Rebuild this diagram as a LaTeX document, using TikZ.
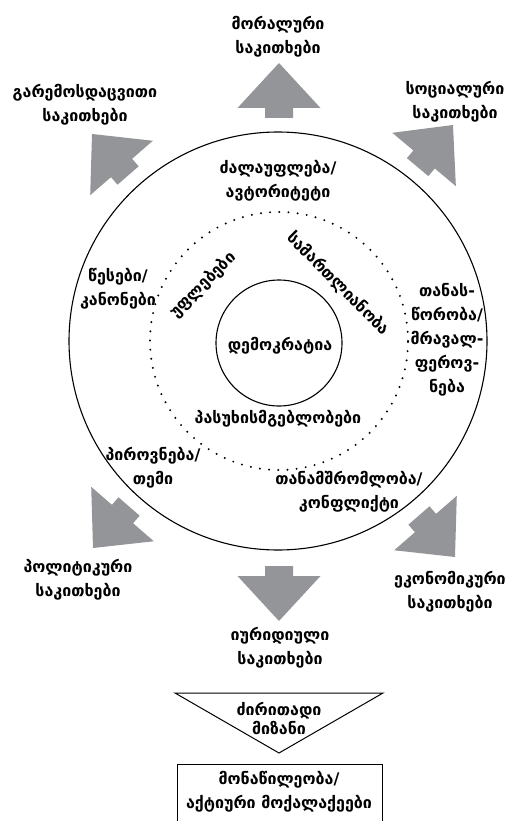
\documentclass[tikz,border=0pt]{standalone}
\usepackage{fontspec}
\newfontfamily\geo{DejaVu Sans Bold}
\definecolor{arrowgray}{HTML}{939598}
\newcommand\gArrow[3]{%
  \fill[arrowgray, shift={(#1,#2)}, rotate=#3]
    (0,0) -- (-45,41.5) -- (-45,14) -- (-55,14) -- (-55,-14) -- (-45,-14) -- (-45,-41.5) -- cycle;}
\begin{document}
\begin{tikzpicture}[x=1pt,y=-1pt,
  lbl/.style={font=\geo\fontsize{16}{24}\selectfont, align=center, inner sep=0pt},
  ring/.style={circle, draw, line width=1.1pt, inner sep=0pt}]
\useasboundingbox (0,0) rectangle (516,821);
\clip (0,0) rectangle (516,821);
% circles
\node[ring, minimum size=418pt] (outer) at (278,341) {};
\draw[line width=2.2pt, line cap=round, dash pattern=on 0pt off 9.2pt] (279,341) circle[radius=129pt];
\node[ring, minimum size=126pt] (inner) at (279,343) {};
% arrows
\gArrow{279}{63}{90}
\gArrow{279}{621}{-90}
\gArrow{92}{134}{131}
\gArrow{453}{125}{50}
\gArrow{93}{548}{229}
\gArrow{455}{557}{-49}
% outer labels
\node[lbl] (moral) at (278,37) {მორალური\\საკითხები};
\node[lbl] (env) at (85,105) {გარემოსდაცვითი\\საკითხები};
\node[lbl] (soc) at (455,102) {სოციალური\\საკითხები};
\node[lbl] (pol) at (78,580) {პოლიტიკური\\საკითხები};
\node[lbl] (jur) at (280,648) {იურიდიული\\საკითხები};
\node[lbl] (eco) at (450,592) {ეკონომიკური\\საკითხები};
% ring labels
\node[lbl] (power) at (278,181) {ძალაუფლება/\\ავტორიტეტი};
\node[lbl] (rules) at (118,289) {წესები/\\კანონები};
\node[lbl] (equal) at (447,340) {თანას-\\წორობა/\\მრავალ-\\ფეროვ-\\ნება};
\node[lbl] (person) at (153,468) {პიროვნება/\\თემი};
\node[lbl] (coop) at (349,492) {თანამშრომლობა/\\კონფლიქტი};
% inner labels
\node[lbl, rotate=45] (rights) at (203,285) {უფლებები};
\node[lbl, rotate=-45] (justice) at (338,284) {სამართლიანობა};
\node[lbl] (resp) at (278,419) {პასუხისმგებლობები};
\node[lbl] (demo) at (280,346) {დემოკრატია};
% goal
\draw[line width=1pt] (175,693) -- (383,693) -- (279,753) -- cycle;
\node[lbl, font=\geo\fontsize{16}{19}\selectfont] (goal) at (279,718) {ძირითადი\\მიზანი};
\draw[line width=1pt] (177,764) rectangle (382,830);
\node[lbl] (part) at (279,792) {მონაწილეობა/\\აქტიური მოქალაქეები};
\end{tikzpicture}
\end{document}
